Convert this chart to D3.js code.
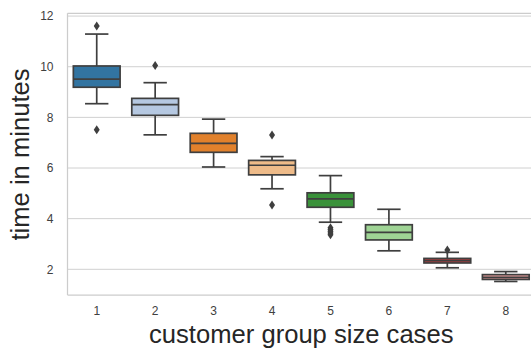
<!DOCTYPE html>
<html>
<head>
<style>
  body { margin: 0; background: #fff; }
  text { font-family: "Liberation Sans", Arial, sans-serif; }
</style>
</head>
<body>

<script src="https://d3js.org/d3.v7.min.js"></script>
<script>

const width = 531;
const height = 350;

// box summary
const groups   = ['1', '2', '3', '4', '5', '6', '7', '8'];
const whiskLo  = [8.54, 7.31, 6.04, 5.18, 3.86, 2.73, 2.06, 1.52];
const q1       = [9.19, 8.08, 6.62, 5.73, 4.45, 3.16, 2.25, 1.60];
const median   = [9.51, 8.50, 6.97, 6.11, 4.78, 3.46, 2.34, 1.68];
const q3       = [10.03, 8.75, 7.37, 6.30, 5.02, 3.76, 2.43, 1.79];
const whiskHi  = [11.29, 9.37, 7.93, 6.45, 5.70, 4.37, 2.67, 1.91];
const outliers = [[11.61, 7.51], [10.05], [], [7.30, 4.54],
                  [3.64, 3.57, 3.50, 3.43, 3.36], [], [2.76], []];
const yTicks   = [2, 4, 6, 8, 10, 12];

const colors = ['#3274a1', '#b5c8e1', '#e1812c', '#eebb89',
                '#3a923a', '#9fd495', '#c03d3e', '#f2a5a3'];
const gray = '#3f3f3f';
const lw = 1.7;

const margin = {left: 67.5, right: -4, top: 13.3, bottom: 55};

const svg = d3.select('body')
              .append('svg')
              .attr('width', width)
              .attr('height', height);

const x = d3.scaleBand()
            .domain(groups)
            .range([margin.left, width - margin.right])
            .padding(0);

const y = d3.scaleLinear()
            .domain([0.985, 12.11])
            .range([height - margin.bottom, margin.top]);

// grid
svg.append('g')
   .selectAll('line')
   .data(yTicks)
   .enter()
   .append('line')
   .attr('x1', margin.left)
   .attr('x2', width - margin.right)
   .attr('y1', d => y(d))
   .attr('y2', d => y(d))
   .attr('stroke', '#d0d0d0')
   .attr('stroke-width', 1);

// spines
const spine = (x1, y1, x2, y2) =>
  svg.append('line')
     .attr('x1', x1).attr('y1', y1).attr('x2', x2).attr('y2', y2)
     .attr('stroke', '#cccccc').attr('stroke-width', 1.25);
spine(margin.left, margin.top, margin.left, height - margin.bottom);
spine(margin.left, height - margin.bottom, width - margin.right, height - margin.bottom);
spine(margin.left, margin.top, width - margin.right, margin.top);

// axes (labels only, no tick marks)
const yAxis = svg.append('g')
   .attr('transform', `translate(${margin.left},0)`)
   .call(d3.axisLeft(y).tickValues(yTicks).tickSize(0).tickPadding(14));
yAxis.select('.domain').remove();
yAxis.selectAll('text')
     .attr('font-size', 12).attr('fill', '#404040')
     .attr('font-family', '"Liberation Sans", Arial, sans-serif');

const xAxis = svg.append('g')
   .attr('transform', `translate(0,${height - margin.bottom})`)
   .call(d3.axisBottom(x).tickSize(0).tickPadding(11));
xAxis.select('.domain').remove();
xAxis.selectAll('text')
     .attr('font-size', 12).attr('fill', '#404040')
     .attr('font-family', '"Liberation Sans", Arial, sans-serif');

// boxes
const boxes = groups.map((g, i) => ({
  g: g, lo: whiskLo[i], q1: q1[i], med: median[i], q3: q3[i], hi: whiskHi[i],
  out: outliers[i], color: colors[i]
}));

const bw = x.bandwidth() * 0.8;
const cw = bw / 2;

const box = svg.append('g')
   .selectAll('g')
   .data(boxes)
   .enter()
   .append('g')
   .attr('transform', d => `translate(${x(d.g) + x.bandwidth() / 2},0)`);

box.append('line')
   .attr('y1', d => y(d.lo)).attr('y2', d => y(d.q1))
   .attr('stroke', gray).attr('stroke-width', lw);
box.append('line')
   .attr('y1', d => y(d.q3)).attr('y2', d => y(d.hi))
   .attr('stroke', gray).attr('stroke-width', lw);
box.append('line')
   .attr('x1', -cw / 2).attr('x2', cw / 2)
   .attr('y1', d => y(d.lo)).attr('y2', d => y(d.lo))
   .attr('stroke', gray).attr('stroke-width', lw);
box.append('line')
   .attr('x1', -cw / 2).attr('x2', cw / 2)
   .attr('y1', d => y(d.hi)).attr('y2', d => y(d.hi))
   .attr('stroke', gray).attr('stroke-width', lw);
box.append('rect')
   .attr('x', -bw / 2).attr('width', bw)
   .attr('y', d => y(d.q3))
   .attr('height', d => y(d.q1) - y(d.q3))
   .attr('fill', d => d.color)
   .attr('stroke', gray).attr('stroke-width', lw);
box.append('line')
   .attr('x1', -bw / 2).attr('x2', bw / 2)
   .attr('y1', d => y(d.med)).attr('y2', d => y(d.med))
   .attr('stroke', gray).attr('stroke-width', lw);

box.selectAll('path')
   .data(d => d.out)
   .enter()
   .append('path')
   .attr('d', 'M0,-4.5L3,0L0,4.5L-3,0Z')
   .attr('transform', d => `translate(0,${y(d)})`)
   .attr('fill', gray);

// axis titles
svg.append('text')
   .attr('x', (margin.left + width - margin.right) / 2)
   .attr('y', 343)
   .attr('text-anchor', 'middle')
   .attr('font-size', 25.6)
   .attr('fill', '#262626')
   .text('customer group size cases');

svg.append('text')
   .attr('transform', 'translate(28.5,154.5) rotate(-90)')
   .attr('text-anchor', 'middle')
   .attr('font-size', 25.6)
   .attr('fill', '#262626')
   .text('time in minutes');

</script>
</body>
</html>
